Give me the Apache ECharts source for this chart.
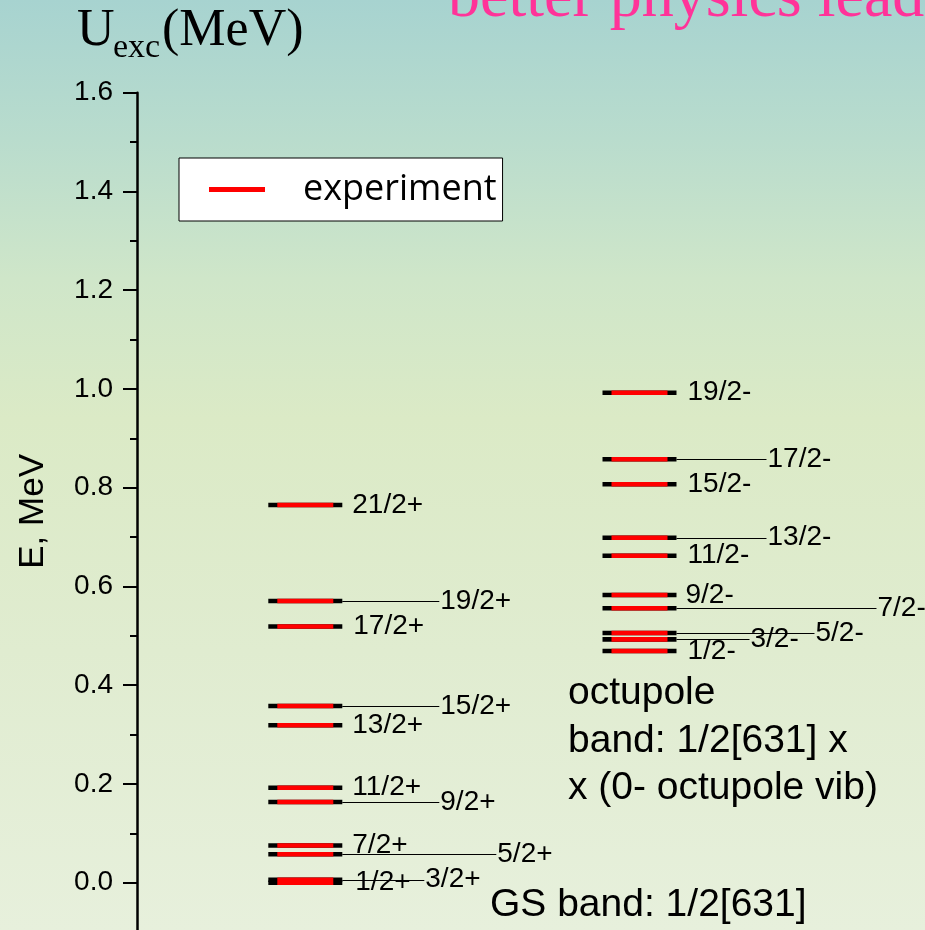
<!DOCTYPE html>
<html>
<head>
<meta charset="utf-8">
<script src="https://cdn.jsdelivr.net/npm/echarts@6/dist/echarts.min.js"></script>
<style>
  html, body { margin: 0; padding: 0; }
  #chart { width: 925px; height: 930px; }
</style>
</head>
<body>
<div id="chart"></div>
<script>
// ---- data ----
const posLabels   = ['1/2+', '3/2+', '5/2+', '7/2+', '9/2+', '11/2+', '13/2+', '15/2+', '17/2+', '19/2+', '21/2+'];
const posEnergies = [0.000, 0.006, 0.0575, 0.0753, 0.1634, 0.1924, 0.3188, 0.358, 0.519, 0.5705, 0.765];
const negLabels   = ['1/2-', '3/2-', '5/2-', '7/2-', '9/2-', '11/2-', '13/2-', '15/2-', '17/2-', '19/2-'];
const negEnergies = [0.4693, 0.4929, 0.5057, 0.5557, 0.5827, 0.6623, 0.6987, 0.8069, 0.8575, 0.9924];
const majorTicks  = [0.0, 0.2, 0.4, 0.6, 0.8, 1.0, 1.2, 1.4, 1.6];
const minorTicks  = [0.1, 0.3, 0.5, 0.7, 0.9, 1.1, 1.3, 1.5];
const yAxisMin = -0.0958, yAxisMax = 1.6;
const seriesName = 'experiment';
const axisName = 'E, MeV';
const bandNotes = ['octupole', 'band: 1/2[631] x', 'x (0- octupole vib)'];
const gsNote = 'GS band: 1/2[631]';
const pinkTitle = 'better physics lead';

// ---- layout (pixel offsets of labels from bar end) ----
const labelOffset = {
  '1/2+': 13, '3/2+': 83, '5/2+': 155, '7/2+': 10, '9/2+': 98, '11/2+': 10,
  '13/2+': 10, '15/2+': 98, '17/2+': 11, '19/2+': 98, '21/2+': 10,
  '1/2-': 11, '3/2-': 74, '5/2-': 139, '7/2-': 201, '9/2-': 9, '11/2-': 11,
  '13/2-': 91, '15/2-': 11, '17/2-': 91, '19/2-': 11
};
const SANS = '"Liberation Sans", Arial, sans-serif';
const SERIF = '"Liberation Serif", "Times New Roman", serif';

function levelRenderer(labels) {
  return function (params, api) {
    const p = api.coord([api.value(0), api.value(1)]);
    const name = labels[params.dataIndex];
    const off = labelOffset[name];
    const half = 37, redHalf = 28, th = 4.6;
    const x1 = p[0] + half;
    const ly = Math.round(p[1]) + 0.5;
    const children = [
      { type: 'rect', shape: { x: p[0] - half, y: p[1] - th / 2, width: half * 2, height: th }, style: { fill: '#000' } },
      { type: 'rect', shape: { x: p[0] - redHalf, y: p[1] - th / 2, width: redHalf * 2, height: th }, style: { fill: api.visual('color') } }
    ];
    if (off > 20) {
      children.push({ type: 'line', shape: { x1: x1, y1: ly, x2: x1 + off - 1, y2: ly }, style: { stroke: '#000', lineWidth: 1 } });
    }
    children.push({ type: 'text', style: { text: name, x: x1 + off, y: p[1], fill: '#000', font: '28px ' + SANS, verticalAlign: 'middle', align: 'left' } });
    return { type: 'group', children: children };
  };
}

const chart = echarts.init(document.getElementById('chart'), null, { renderer: 'canvas' });
chart.setOption({
  animation: false,
  backgroundColor: new echarts.graphic.LinearGradient(0, 0, 0, 1, [
    { offset: 0, color: '#a7d3d0' },
    { offset: 0.15, color: '#b9dccd' },
    { offset: 0.3, color: '#cfe6c9' },
    { offset: 0.45, color: '#dbeac6' },
    { offset: 0.7, color: '#e0ecd0' },
    { offset: 1, color: '#e7f0dc' }
  ]),
  grid: { left: 137, right: 0, top: 92.7, bottom: 0, containLabel: false },
  legend: {
    left: 179, top: 158,
    padding: [13.5, 6, 13.5, 30],
    backgroundColor: '#fff', borderColor: '#000', borderWidth: 1,
    icon: 'rect', itemWidth: 56, itemHeight: 5,
    textStyle: { fontFamily: '"Open Sans", sans-serif', fontSize: 36, color: '#000', padding: [0, 0, 0, 33] },
    data: [seriesName]
  },
  xAxis: { type: 'value', min: -0.5036, max: 1.8543, show: false },
  yAxis: [
    {
      type: 'value', min: yAxisMin, max: yAxisMax, position: 'left',
      name: axisName, nameLocation: 'middle', nameGap: 86, nameRotate: 90,
      nameTextStyle: { fontFamily: SANS, fontSize: 35, color: '#000' },
      axisLine: { show: true, onZero: false, lineStyle: { color: '#000', width: 2.5 } },
      axisTick: { show: true, length: 14, customValues: majorTicks, lineStyle: { color: '#000', width: 2 } },
      splitLine: { show: false },
      axisLabel: { margin: 24, color: '#000', fontFamily: SANS, fontSize: 28, customValues: majorTicks,
                   showMinLabel: true, showMaxLabel: true, formatter: v => Number(v).toFixed(1) }
    },
    {
      type: 'value', min: yAxisMin, max: yAxisMax, position: 'left', offset: 0,
      axisLine: { show: false, onZero: false },
      axisTick: { show: true, length: 7, customValues: minorTicks, lineStyle: { color: '#000', width: 2 } },
      axisLabel: { show: false }, splitLine: { show: false }
    }
  ],
  series: [
    { type: 'custom', name: seriesName, coordinateSystem: 'cartesian2d', itemStyle: { color: '#ff0000' },
      encode: { x: 0, y: 1 }, silent: true, renderItem: levelRenderer(posLabels),
      data: posEnergies.map(e => [0, e]) },
    { type: 'custom', name: seriesName, coordinateSystem: 'cartesian2d', itemStyle: { color: '#ff0000' },
      encode: { x: 0, y: 1 }, silent: true, renderItem: levelRenderer(negLabels),
      data: negEnergies.map(e => [1, e]) }
  ],
  graphic: [
    { type: 'text', style: { text: 'U', x: 77, y: 31.2, font: '52px ' + SERIF, fill: '#000', verticalAlign: 'middle' } },
    { type: 'text', style: { text: 'exc', x: 113, y: 47.8, font: '34px ' + SERIF, fill: '#000', verticalAlign: 'middle' } },
    { type: 'text', style: { text: '(MeV)', x: 162, y: 31.2, font: '52px ' + SERIF, fill: '#000', verticalAlign: 'middle' } },
    { type: 'text', style: { text: pinkTitle, x: 448, y: -0.5, font: '64px ' + SERIF, fill: '#ff3399', verticalAlign: 'middle' } },
    { type: 'text', style: { text: bandNotes.join('\n'), x: 568, y: 669.5, font: '39px ' + SANS, lineHeight: 47.5, fill: '#000', verticalAlign: 'top' } },
    { type: 'text', style: { text: gsNote, x: 490, y: 904.9, font: '39px ' + SANS, fill: '#000', verticalAlign: 'middle' } }
  ]
});
</script>
</body>
</html>
